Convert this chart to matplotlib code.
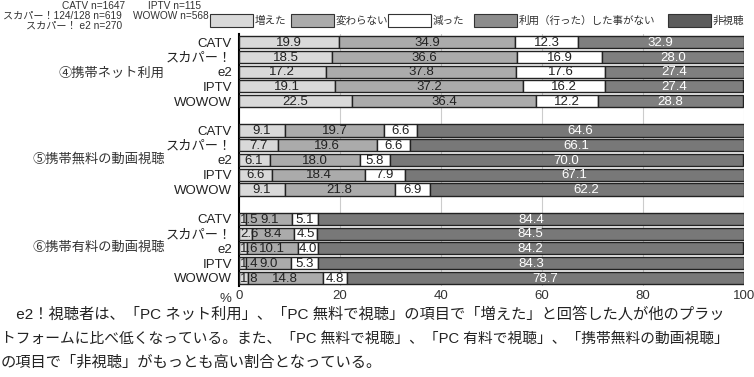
import numpy as np
import matplotlib.pyplot as plt
from matplotlib.patches import Rectangle

plt.rcParams['font.family'] = ['Liberation Sans', 'Noto Sans CJK JP']

# データ
platforms = ['CATV', 'スカパー！', 'e2', 'IPTV', 'WOWOW']
groups = ['④携帯ネット利用', '⑤携帯無料の動画視聴', '⑥携帯有料の動画視聴']
legend_labels = ['増えた', '変わらない', '減った', '利用（行った）した事がない', '非視聴']

# 増えた, 変わらない, 減った, 利用した事がない / 非視聴
net_use = [[19.9, 34.9, 12.3, 32.9],
           [18.5, 36.6, 16.9, 28.0],
           [17.2, 37.8, 17.6, 27.4],
           [19.1, 37.2, 16.2, 27.4],
           [22.5, 36.4, 12.2, 28.8]]
free_video = [[9.1, 19.7, 6.6, 64.6],
              [7.7, 19.6, 6.6, 66.1],
              [6.1, 18.0, 5.8, 70.0],
              [6.6, 18.4, 7.9, 67.1],
              [9.1, 21.8, 6.9, 62.2]]
paid_video = [[1.5, 9.1, 5.1, 84.4],
              [2.6, 8.4, 4.5, 84.5],
              [1.6, 10.1, 4.0, 84.2],
              [1.4, 9.0, 5.3, 84.3],
              [1.8, 14.8, 4.8, 78.7]]
group_data = [net_use, free_video, paid_video]
last_kind = [3, 4, 4]  # 4番目の区分: 利用した事がない / 非視聴

seg_colors = ['#d9d9d9', '#ababab', '#ffffff', '#7f7f7f', '#787878']
legend_colors = ['#d9d9d9', '#ababab', '#ffffff', '#8c8c8c', '#5c5c5c']

fig = plt.figure(figsize=(7.54, 3.77), dpi=100)
ax = fig.add_axes([238.7 / 754, 1 - 286 / 377, 505 / 754, (286 - 34) / 377])

ypos = []
for g in range(3):
    for i in range(5):
        ypos.append(g * 6 + i)

row = 0
for g, data in enumerate(group_data):
    for i, vals in enumerate(data):
        y = ypos[row]
        left = 0
        for k, v in enumerate(vals):
            kind = k if k < 3 else last_kind[g]
            ax.barh(y, v, left=left, height=0.82, color=seg_colors[kind],
                    edgecolor='#222222', linewidth=1.0, zorder=3)
            tc = 'white' if k == 3 else '#222222'
            x = left + v / 2 if v >= 3 else left + 0.3
            ha = 'center' if v >= 3 else 'left'
            ax.text(x, y + 0.05, f'{v:.1f}', ha=ha, va='center',
                    fontsize=9.5, color=tc, zorder=4)
            left += v
        row += 1

ax.set_xlim(0, 100)
ax.set_ylim(ypos[-1] + 0.55, -0.55)
ax.set_xticks([0, 20, 40, 60, 80, 100])
ax.set_xticklabels(['0', '20', '40', '60', '80', '100'], fontsize=9.5, color='#333333')
ax.tick_params(axis='x', length=0, pad=3)
ax.set_yticks(ypos)
ax.set_yticklabels(platforms * 3, fontsize=9.5, color='#222222')
ax.tick_params(axis='y', length=0, pad=5)
ax.grid(axis='x', color='#cccccc', linewidth=0.8, zorder=0)
for s in ['top', 'right', 'bottom']:
    ax.spines[s].set_visible(False)
ax.spines['left'].set_linewidth(1.5)
ax.text(-1.5, ypos[-1] + 1.45, '%', ha='right', va='center', fontsize=9.5, color='#333333')

# グループ名
for g, name in enumerate(groups):
    fig.text(165 / 754, 1 - [74, 159, 248][g] / 377, name, ha='right', va='center',
             fontsize=9.5, color='#333333')

# 凡例
box_left = [210, 291, 388, 474, 668]
for bx, c, lab in zip(box_left, legend_colors, legend_labels):
    fig.patches.append(Rectangle((bx / 754, 1 - 27 / 377), 43 / 754, 13 / 377,
                                 transform=fig.transFigure, facecolor=c,
                                 edgecolor='#333333', linewidth=0.8))
    fig.text((bx + 45) / 754, 1 - 20.5 / 377, lab, ha='left', va='center',
             fontsize=7.6, color='#333333')

# サンプル数
fig.text(125 / 754, 1 - 6 / 377, 'CATV n=1647', ha='right', va='center', fontsize=7.3, color='#333333')
fig.text(148 / 754, 1 - 6 / 377, 'IPTV n=115', ha='left', va='center', fontsize=7.3, color='#333333')
fig.text(122 / 754, 1 - 16 / 377, 'スカパー！124/128 n=619', ha='right', va='center', fontsize=7.3, color='#333333')
fig.text(133 / 754, 1 - 16 / 377, 'WOWOW n=568', ha='left', va='center', fontsize=7.3, color='#333333')
fig.text(122 / 754, 1 - 26 / 377, 'スカパー！ e2 n=270', ha='right', va='center', fontsize=7.3, color='#333333')

# 本文
lines = ['　e2！視聴者は、「PC ネット利用」、「PC 無料で視聴」の項目で「増えた」と回答した人が他のプラッ',
         'トフォームに比べ低くなっている。また、「PC 無料で視聴」、「PC 有料で視聴」、「携帯無料の動画視聴」',
         'の項目で「非視聴」がもっとも高い割合となっている。']
fig.text(1 / 754, 1 - 314 / 377, lines[0], ha='left', va='center', fontsize=11, color='#222222')
fig.text(1 / 754, 1 - 339 / 377, lines[1], ha='left', va='center', fontsize=10.6, color='#222222')
fig.text(1 / 754, 1 - 363 / 377, lines[2], ha='left', va='center', fontsize=11, color='#222222')

plt.savefig('out.png', dpi=100)
